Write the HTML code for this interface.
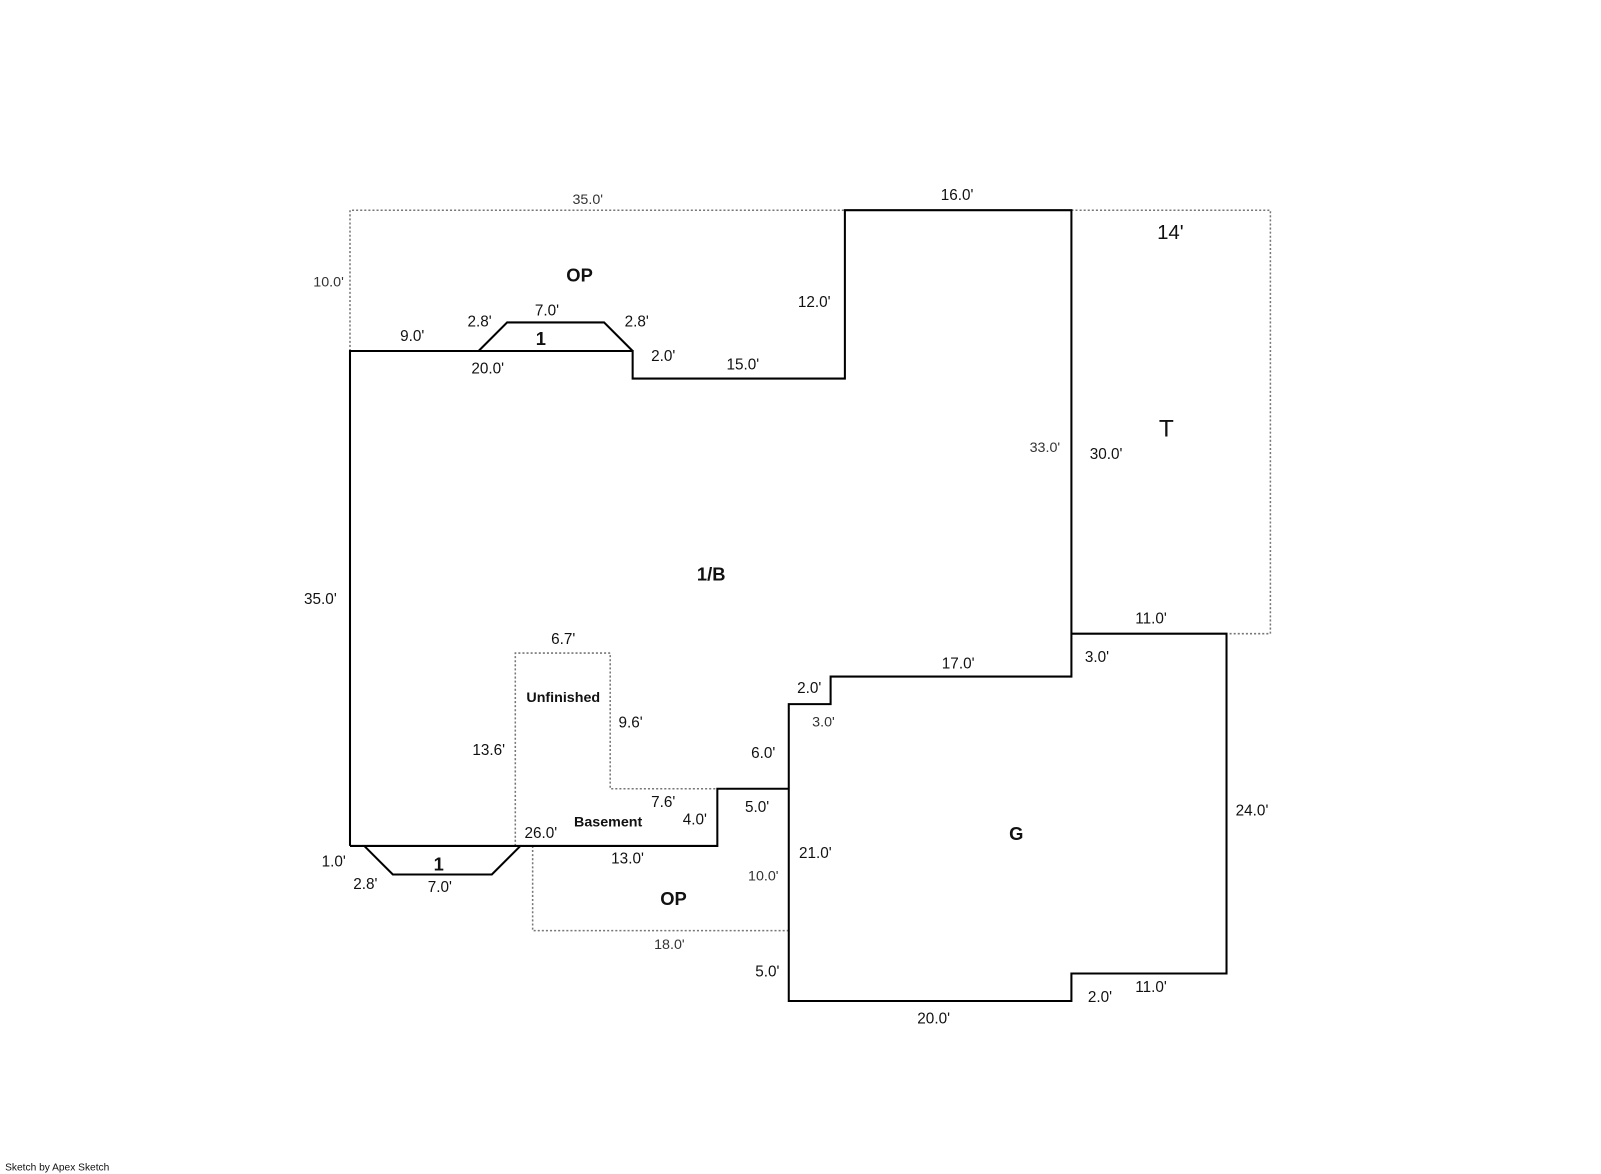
<!DOCTYPE html>
<html><head><meta charset="utf-8"><style>
html,body{margin:0;padding:0;background:#fff;}
svg{display:block;}
text{font-family:"Liberation Sans",Arial,sans-serif;fill:#111;}
.d{font-size:15px;}
.s{font-size:14px;fill:#333;}
.b{font-size:18px;font-weight:bold;}
</style></head><body>
<svg width="1601" height="1174" viewBox="0 0 1569 1150.5" preserveAspectRatio="none" xmlns="http://www.w3.org/2000/svg">
<g fill="none" stroke="#777" stroke-width="1.5" stroke-dasharray="2,2">
<polyline points="343,344 343,206 828,206"/>
<polyline points="1050,206 1245,206 1245,621 1202,621"/>
<polyline points="505,829 505,640 598,640 598,773 703,773"/>
<polyline points="522,829 522,912 773,912"/>
</g>
<g fill="none" stroke="#000" stroke-width="2">
<polyline points="343,829 343,344 620,344 620,371 828,371 828,206 1050,206 1050,663 814,663 814,690 773,690 773,981 1050,981 1050,954 1202,954 1202,621 1050,621"/>
<polyline points="343,829 703,829 703,773 773,773"/>
<polyline points="469,344 497,316 592,316 620,344"/>
<polyline points="357,829 385,857 482,857 510,829"/>
</g>
<g class="d" text-anchor="middle">
<text class="s" x="576" y="200">35.0'</text>
<text x="938" y="196">16.0'</text>
<text x="1147" y="234" style="font-size:20px">14'</text>
<text class="s" x="322" y="281">10.0'</text>
<text x="404" y="334">9.0'</text>
<text x="470" y="320">2.8'</text>
<text x="536" y="309">7.0'</text>
<text x="624" y="320">2.8'</text>
<text x="478" y="366">20.0'</text>
<text x="650" y="354">2.0'</text>
<text x="728" y="362">15.0'</text>
<text x="798" y="301">12.0'</text>
<text class="s" x="1024" y="443">33.0'</text>
<text x="1084" y="450">30.0'</text>
<text x="1143" y="428" style="font-size:24px">T</text>
<text x="314" y="592">35.0'</text>
<text x="1128" y="611">11.0'</text>
<text x="1075" y="649">3.0'</text>
<text x="939" y="655">17.0'</text>
<text x="793" y="679">2.0'</text>
<text class="s" x="807" y="712">3.0'</text>
<text x="552" y="631">6.7'</text>
<text x="618" y="713">9.6'</text>
<text x="479" y="740">13.6'</text>
<text x="748" y="743">6.0'</text>
<text x="650" y="791">7.6'</text>
<text x="681" y="808">4.0'</text>
<text x="742" y="796">5.0'</text>
<text x="530" y="821">26.0'</text>
<text x="615" y="846">13.0'</text>
<text x="799" y="841">21.0'</text>
<text class="s" x="748" y="863">10.0'</text>
<text x="1227" y="799">24.0'</text>
<text x="327" y="849">1.0'</text>
<text x="358" y="871">2.8'</text>
<text x="431" y="874">7.0'</text>
<text class="s" x="656" y="930">18.0'</text>
<text x="752" y="957">5.0'</text>
<text x="1078" y="982">2.0'</text>
<text x="1128" y="972">11.0'</text>
<text x="915" y="1003">20.0'</text>
</g>
<g class="b" text-anchor="middle">
<text x="568" y="276">OP</text>
<text x="530" y="338">1</text>
<text x="697" y="569">1/B</text>
<text x="552" y="688" style="font-size:14px">Unfinished</text>
<text x="596" y="810" style="font-size:14px">Basement</text>
<text x="430" y="853">1</text>
<text x="660" y="887">OP</text>
<text x="996" y="823">G</text>
</g>
<text x="5" y="1147" style="font-size:10px">Sketch by Apex Sketch</text>
</svg>
</body></html>
